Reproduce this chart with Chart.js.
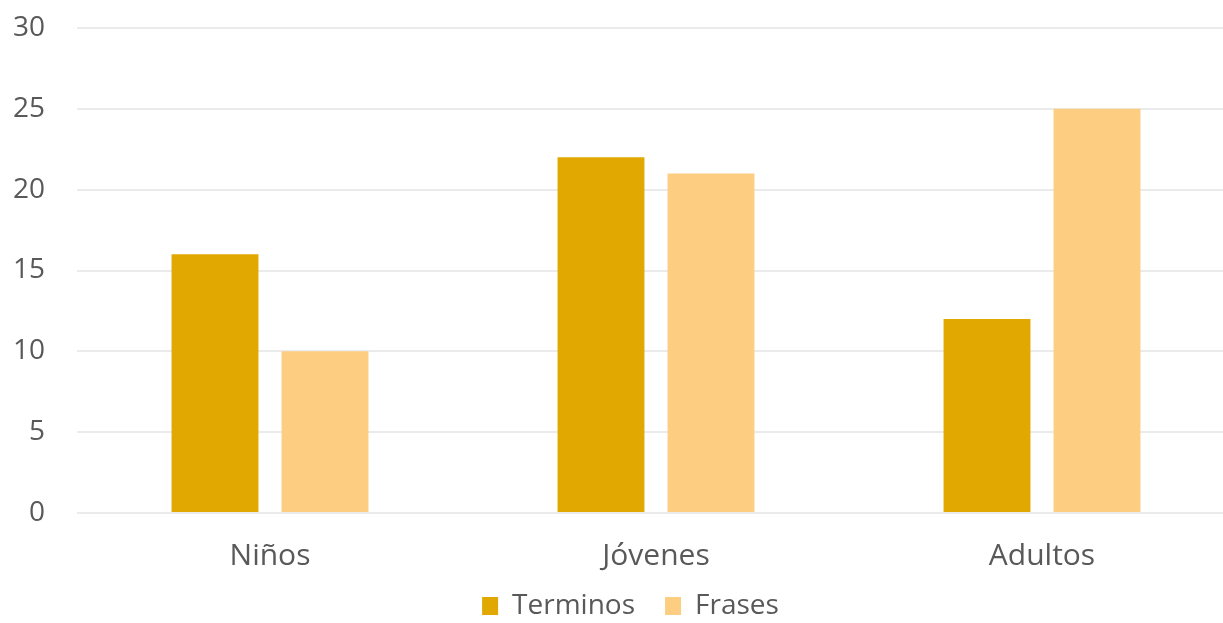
<!DOCTYPE html>
<html>
<head>
<meta charset="utf-8">
<script src="https://cdn.jsdelivr.net/npm/chart.js@4/dist/chart.umd.min.js"></script>
<style>
  html, body { margin: 0; padding: 0; background: #fff; overflow: hidden; }
  #wrap { width: 1238px; height: 623px; }
</style>
</head>
<body>
<div id="wrap"><canvas id="grafico"></canvas></div>
<script>
// datos del gráfico
const categorias = ['Niños', 'Jóvenes', 'Adultos'];
const terminos = [16, 22, 12];
const frases = [10, 21, 25];
const nombresSeries = ['Terminos', 'Frases'];

const colorTexto = '#595959';
const fuente = "'Open Sans', 'Noto Sans', sans-serif";

// la leyenda ocupa poco alto en el layout y luego se recoloca
// (el padding de las etiquetas también separa los elementos)
const ajusteLeyenda = {
    id: 'ajusteLeyenda',
    afterInit: function(chart) {
        const leyenda = chart.legend;
        if (!leyenda) return;
        const fitOriginal = leyenda.fit;
        leyenda.fit = function() {
            fitOriginal.call(this);
            this.height = 36;
        };
    },
    afterLayout: function(chart) {
        const leyenda = chart.legend;
        if (!leyenda) return;
        leyenda.top = 562;
        leyenda.bottom = 623;
        leyenda.left = leyenda.left + 26;
    }
};

const ctx = document.getElementById('grafico').getContext('2d');
window.grafico = new Chart(ctx, {
    type: 'bar',
    data: {
        labels: categorias,
        datasets: [
            { label: nombresSeries[0], data: terminos, backgroundColor: '#E0A800' },
            { label: nombresSeries[1], data: frases, backgroundColor: '#FDCE82' }
        ]
    },
    plugins: [ajusteLeyenda],
    options: {
        responsive: true,
        maintainAspectRatio: false,
        animation: false,
        categoryPercentage: 0.57,
        barPercentage: 0.79,
        layout: { padding: { top: 28, left: 0, right: 3, bottom: 0 } },
        plugins: {
            legend: {
                position: 'bottom',
                labels: {
                    color: colorTexto,
                    boxWidth: 16,
                    boxHeight: 18,
                    padding: 30,
                    font: { family: fuente, size: 28 }
                }
            },
            tooltip: { enabled: false }
        },
        scales: {
            x: {
                grid: { display: false },
                border: { display: false },
                ticks: {
                    color: colorTexto,
                    padding: 17,
                    font: { family: fuente, size: 30 }
                },
                afterFit: function(escala) {
                    escala.height = 74;
                    escala.paddingLeft = 0;
                    escala.paddingRight = 0;
                }
            },
            y: {
                min: 0,
                max: 30,
                ticks: {
                    stepSize: 5,
                    color: colorTexto,
                    padding: 32,
                    font: { family: fuente, size: 28 }
                },
                grid: { color: '#EBEBEB', lineWidth: 2, drawTicks: false },
                border: { display: false },
                afterFit: function(escala) {
                    escala.width = 77;
                    escala.paddingTop = 0;
                    escala.paddingBottom = 0;
                }
            }
        }
    }
});
</script>
</body>
</html>
